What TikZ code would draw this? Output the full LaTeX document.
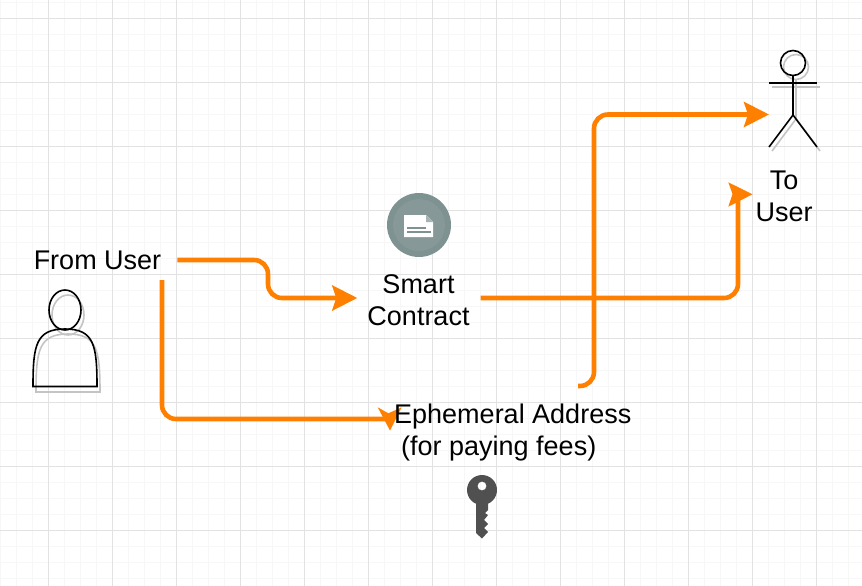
\documentclass[tikz,border=0pt]{standalone}
\usepackage{fontspec}
\setmainfont{Liberation Sans}
\usetikzlibrary{arrows.meta}
\definecolor{flowcolor}{HTML}{FF8000}
\definecolor{gridminor}{HTML}{F7F7F7}
\definecolor{gridmajor}{HTML}{E2E2E2}
\definecolor{shadowgray}{HTML}{C4C4C4}
\definecolor{contractgray}{HTML}{7F9292}
\definecolor{contractring}{HTML}{869898}
\definecolor{keygray}{HTML}{505050}
\tikzset{
  flow/.style={draw=flowcolor,line width=4.6pt,rounded corners=14pt},
  flowtip/.style={-{Stealth[length=25pt,width=25pt,inset=4pt]}},
  headfill/.style={fill=flowcolor},
  label/.style={font=\fontsize{27}{32}\selectfont,inner sep=0pt,align=center},
  figure/.style={draw=black,line width=1.6pt},
  shadow/.style={draw=shadowgray,line width=1.6pt}
}
\begin{document}
\begin{tikzpicture}[x=1pt,y=-1pt]
    \useasboundingbox (0,0) rectangle (862,586);
    % grid
    \foreach \gx in {0,...,53} \draw[gridminor,line width=1pt] (0.5+16*\gx,0) -- (0.5+16*\gx,586);
    \foreach \gy in {0,...,36} \draw[gridminor,line width=1pt] (0,2.7+16*\gy) -- (862,2.7+16*\gy);
    \foreach \gx in {0,...,13} \draw[gridmajor,line width=1pt] (48.5+64*\gx,0) -- (48.5+64*\gx,586);
    \foreach \gy in {0,...,8} \draw[gridmajor,line width=1pt] (0,18.7+64*\gy) -- (862,18.7+64*\gy);
    % labels
    \node[label] (fromuser) at (97.5,260) {From User};
    \node[label] (smart) at (418.5,300) {Smart\\Contract};
    \node[label] (touser) at (784,196) {To\\User};
    \coordinate (actorin) at (769,114.5);
    \coordinate (toup) at (738,195);
    \coordinate (ephin) at (389,419);
    \coordinate (ephout) at (578,386);
    \coordinate (smartin) at ([yshift=2pt]smart.west);
    \coordinate (smartout) at ([yshift=2pt]smart.east);
    % user
    \begin{scope}[shift={(3,5)}]
    \draw[shadow] (33,387) .. controls (33,345) and (36,329) .. (65,329) .. controls (94,329) and (97,345) .. (97,387) -- cycle;
    \draw[shadow] (65,310) ellipse (16 and 20);
    \end{scope}
    \draw[figure] (33,386.5) .. controls (33,345) and (36,329) .. (65,329) .. controls (94,329) and (97,345) .. (97,386.5) -- cycle;
    \draw[figure] (65,310) ellipse (16 and 20);
    % actor
    \begin{scope}[shift={(3,4)}]
    \draw[shadow] (793,63) circle (12.5);
    \draw[shadow] (769,83) -- (817,83);
    \draw[shadow] (793,75.5) -- (793,115) -- (769,147);
    \draw[shadow] (793,115) -- (817,147);
    \end{scope}
    \draw[figure] (793,63) circle (12.5);
    \draw[figure] (769,83) -- (817,83);
    \draw[figure] (793,75.5) -- (793,115) -- (769,147);
    \draw[figure] (793,115) -- (817,147);
    % contract icon
    \fill[contractgray] (419,225) circle (32);
    \fill[contractring] (419,225) circle (26);
    \fill[white] (404,215) -- (426,215) -- (433,222) -- (433,237) -- (404,237) -- cycle;
    \fill[contractgray!70] (426,215) -- (426,222) -- (433,222) -- cycle;
    \draw[contractgray,line width=1.2pt] (407,228) -- (426,228);
    \draw[contractgray,line width=1.2pt] (407,232) -- (431,232);
    % key
    \fill[keygray,even odd rule] (482,490) circle (15) (482,486) circle (4.5);
    \fill[keygray] (476,498) -- (476,533) -- (482,538.5) -- (488,532) -- (484,528) -- (488,524) -- (484,520) -- (488,515) -- (485,513) -- (488,510) -- (488,498) -- cycle;
    % connectors
    \draw[flow,flowtip,shorten <=16pt,shorten >=10pt] (fromuser.east) -- (268,260) -- (268,298) -- (smartin);
    \draw[flow] (162,280) -- (162,419) -- (ephin);
    \fill[headfill] (377.7,407.3) -- (388.3,413.3) -- (401.7,407.3) -- (390,430.5) -- cycle;
    \draw[flow,shorten <=11pt] (smartout) -- (738,298) -- (toup);
    \fill[headfill] (728.3,182.3) -- (752.5,194.3) -- (728.3,206.7) -- (732.5,194) -- cycle;
    \draw[flow,flowtip] (ephout) -- (594,386) -- (594,114.5) -- (actorin);
    % text over the arrow head
    \node[label,align=left,anchor=west] (ephemeral) at (394,433) {Ephemeral Address\\\hspace*{7pt}(for paying fees)};
\end{tikzpicture}
\end{document}
